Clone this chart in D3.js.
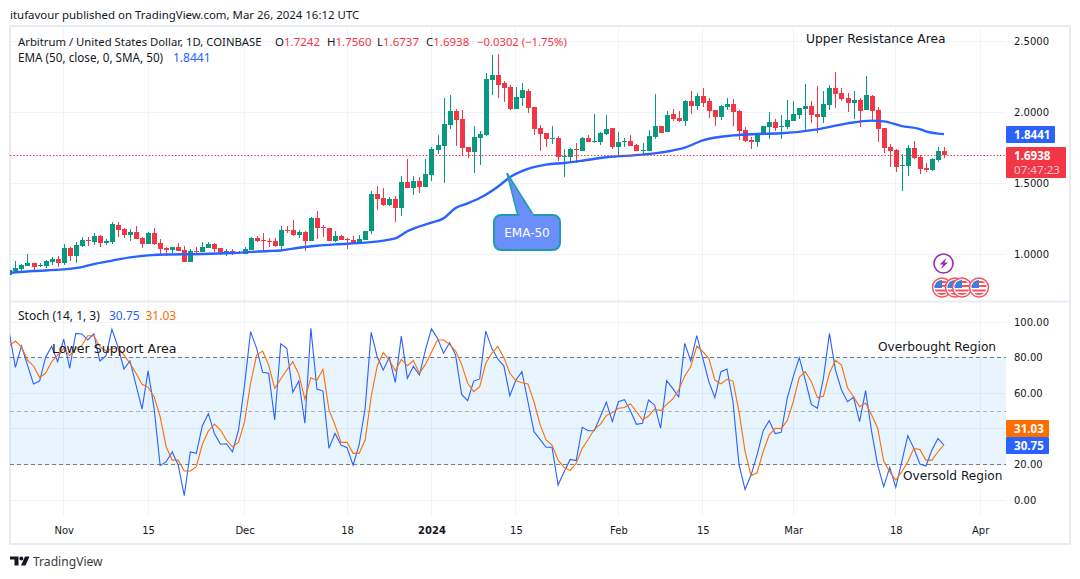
<!DOCTYPE html>
<html>
<head>
<meta charset="utf-8">
<title>ARB/USD</title>
<script src="https://cdn.jsdelivr.net/npm/d3@7"></script>
<style>
    html, body { margin: 0; padding: 0; background: #fff; }
    svg { display: block; }
    text { font-family: "DejaVu Sans", sans-serif; fill: #131722; }
    text.ui { font-family: "Noto Sans", sans-serif; }
</style>
</head>
<body>
<svg id="chart" width="1080" height="579"></svg>
<script>
"use strict";

// daily candles, Oct 23 2023 .. Mar 26 2024
var firstDay = new Date(Date.UTC(2023, 9, 23));

var opens = [
    .852,.878,.894,.915,.936,.915,.915,.943,.964,.936,
    1.042,.985,1.056,1.098,1.084,1.126,1.077,1.084,1.204,1.176,
    1.133,1.155,1.112,1.070,1.147,1.077,1.042,1.028,1.049,1.028,
    .943,1.021,1.014,1.042,1.070,1.042,1.007,1.021,1.014,1.000,
    1.028,1.112,1.098,1.091,1.091,1.056,1.169,1.169,1.133,1.155,
    1.091,1.253,1.192,1.183,1.091,1.127,1.106,1.099,1.070,1.099,
    1.162,1.423,1.394,1.345,1.387,1.324,1.507,1.465,1.514,1.472,
    1.556,1.732,1.761,1.908,2.007,1.951,1.753,1.718,1.817,1.838,
    2.225,2.261,2.204,2.176,2.021,2.099,2.148,2.035,1.887,1.852,
    1.812,1.817,1.685,1.683,1.739,1.725,1.817,1.791,1.789,1.845,
    1.887,1.753,1.791,1.796,1.768,1.728,1.725,1.824,1.901,1.859,
    1.986,1.958,1.936,2.077,2.042,2.112,2.077,2.014,1.965,2.035,
    2.056,2.007,1.873,1.803,1.789,1.838,1.894,1.929,1.897,1.894,
    1.936,1.979,2.021,2.042,1.986,1.965,2.049,2.169,2.134,2.098,
    2.063,2.084,2.014,2.112,2.014,1.887,1.753,1.732,1.622,1.620,
    1.746,1.683,1.605,1.591,1.662,1.7242
];
var highs = [
    .900,.950,.929,1.000,.936,.936,.957,.976,.985,1.070,
    1.049,1.084,1.119,1.119,1.147,1.133,1.105,1.225,1.225,1.183,
    1.176,1.197,1.119,1.155,1.183,1.105,1.049,1.049,1.077,1.056,
    1.035,1.049,1.084,1.084,1.077,1.042,1.035,1.035,1.021,1.049,
    1.119,1.126,1.147,1.112,1.112,1.197,1.197,1.239,1.169,1.162,
    1.260,1.302,1.204,1.183,1.162,1.134,1.113,1.127,1.134,1.162,
    1.444,1.479,1.465,1.401,1.408,1.549,1.669,1.549,1.542,1.669,
    1.756,1.838,2.099,2.120,2.021,2.014,1.753,1.901,1.866,2.275,
    2.401,2.408,2.218,2.190,2.176,2.204,2.162,2.035,1.908,1.852,
    1.901,1.831,1.739,1.746,1.782,1.824,1.838,1.986,1.859,1.979,
    1.887,1.859,1.817,1.838,1.775,1.782,1.873,2.127,1.901,2.007,
    2.021,2.007,2.084,2.148,2.134,2.169,2.098,2.014,2.049,2.098,
    2.091,2.014,1.894,1.824,1.852,1.901,2.000,1.950,1.979,2.084,
    2.077,2.028,2.197,2.077,2.183,2.148,2.190,2.281,2.169,2.134,
    2.148,2.098,2.253,2.120,2.035,1.887,1.774,1.739,1.704,1.767,
    1.796,1.697,1.641,1.676,1.753,1.7560
];
var lows = [
    .845,.868,.878,.915,.882,.908,.901,.922,.908,.922,
    .950,.934,1.049,1.056,1.063,1.049,1.063,1.070,1.119,1.112,
    1.091,1.105,1.042,1.070,1.063,1.000,.985,1.007,1.021,.943,
    .943,1.007,1.014,1.042,1.014,.993,.985,.993,1.000,1.000,
    1.028,1.084,1.021,1.049,1.049,1.035,1.147,1.126,1.112,1.021,
    1.091,1.105,1.119,1.091,1.084,1.099,1.035,1.070,1.070,1.099,
    1.141,1.310,1.338,1.338,1.225,1.268,1.465,1.415,1.430,1.472,
    1.514,1.704,1.500,1.880,1.761,1.690,1.676,1.570,1.627,1.831,
    2.120,2.099,2.070,2.014,2.021,2.042,1.993,1.838,1.725,1.753,
    1.775,1.655,1.542,1.641,1.641,1.725,1.789,1.782,1.768,1.838,
    1.739,1.690,1.753,1.761,1.725,1.697,1.725,1.810,1.852,1.859,
    1.937,1.930,1.901,1.986,2.014,2.035,1.958,1.901,1.943,2.014,
    1.901,1.803,1.789,1.739,1.753,1.838,1.810,1.866,1.810,1.880,
    1.936,1.950,1.873,1.922,1.852,1.922,2.014,2.028,2.077,2.000,
    1.950,1.894,2.014,1.929,1.789,1.711,1.612,1.577,1.443,1.549,
    1.669,1.563,1.577,1.584,1.648,1.6737
];
var closes = [
    .887,.901,.922,.936,.908,.922,.950,.964,.936,1.042,
    .985,1.063,1.098,1.093,1.126,1.077,1.091,1.211,1.169,1.133,
    1.155,1.105,1.070,1.147,1.070,1.035,1.028,1.049,1.021,.943,
    1.021,1.014,1.049,1.070,1.035,1.014,1.021,1.000,1.007,1.035,
    1.112,1.091,1.093,1.086,1.056,1.169,1.162,1.133,1.155,1.091,
    1.253,1.183,1.185,1.091,1.126,1.099,1.101,1.070,1.106,1.162,
    1.423,1.387,1.345,1.387,1.324,1.507,1.465,1.514,1.472,1.563,
    1.739,1.768,1.915,2.007,1.944,1.746,1.718,1.824,1.845,2.232,
    2.261,2.190,2.169,2.021,2.106,2.155,2.028,1.880,1.845,1.810,
    1.817,1.683,1.690,1.739,1.735,1.817,1.789,1.796,1.852,1.880,
    1.753,1.789,1.796,1.761,1.725,1.732,1.831,1.901,1.852,1.979,
    1.951,1.937,2.077,2.042,2.112,2.063,2.007,1.965,2.042,2.056,
    2.000,1.866,1.796,1.789,1.845,1.901,1.929,1.887,1.901,1.943,
    1.986,2.028,2.042,1.979,1.965,2.056,2.169,2.127,2.091,2.063,
    2.084,2.007,2.120,2.007,1.880,1.746,1.725,1.612,1.627,1.746,
    1.676,1.598,1.591,1.669,1.725,1.6938
];

// EMA 50, sampled at these candle numbers
var emaAt = [0,4,9,12,14,17,20,23,26,32,37,43,45,48,51,54,59,64,66,70,72,74,76,78,81,83,86,89,92,95,99,105,109,112,115,120,124,128,134,139,143,145,148,151,152,155];
var emaValues = [.868,.880,.892,.908,.929,.953,.976,.990,.997,1.000,1.007,1.021,1.025,1.044,1.058,1.068,1.080,1.110,1.160,1.221,1.251,1.324,1.357,1.394,1.474,1.540,1.599,1.629,1.641,1.657,1.681,1.700,1.721,1.749,1.800,1.835,1.845,1.850,1.878,1.920,1.939,1.934,1.901,1.880,1.864,1.8441];

var stochK = [
    93.6,74.5,86.5,75.8,65.2,66.8,80.1,86.3,77.7,90.4,
    74.0,93.6,93.3,89.9,93.3,78.1,80.9,95.9,86.1,73.6,
    78.1,64.6,51.1,72.5,51.5,19.3,21.5,27.0,19.6,2.4,
    27.0,26.2,41.7,48.5,37.4,31.3,31.6,27.1,39.3,64.6,
    94.6,85.2,71.7,71.2,45.0,87.8,85.2,60.5,66.8,43.1,
    96.4,62.3,61.2,29.0,37.4,30.9,29.4,19.6,30.9,51.5,
    94.2,80.5,73.0,80.0,66.1,92.1,68.3,75.1,70.2,84.3,
    96.1,90.8,82.4,88.4,81.4,59.3,55.8,66.8,68.0,94.9,
    85.2,79.2,75.4,58.6,67.4,72.1,55.2,38.4,34.1,29.6,
    29.6,8.4,15.9,22.8,22.1,40.8,38.9,38.9,46.8,55.0,
    44.0,55.2,56.4,50.0,42.5,43.1,56.2,53.4,40.3,67.0,
    62.7,58.0,88.0,78.1,92.3,79.6,66.5,57.5,72.1,73.6,
    55.2,20.0,5.9,14.0,25.3,38.8,44.6,37.3,38.0,57.1,
    69.3,80.0,67.4,53.7,51.5,68.3,93.6,73.0,61.8,55.2,
    57.7,44.0,61.4,38.4,19.6,7.5,18.3,7.1,21.5,36.1,
    29.0,20.2,19.1,28.1,34.6,30.75
];
var stochD = [
    86.7,89.3,86.1,78.6,75.3,68.9,71.2,77.7,81.4,85.2,
    81.1,85.2,86.7,92.3,92.3,86.1,83.7,84.8,85.6,81.4,
    76.8,71.2,65.0,63.3,58.0,46.8,29.9,22.4,22.4,16.3,
    16.3,18.7,31.3,38.8,42.7,39.3,33.7,29.9,32.4,44.0,
    65.6,81.4,83.7,75.8,62.7,68.0,73.0,77.7,70.6,56.7,
    68.7,67.2,73.4,50.6,42.1,32.4,32.4,26.2,26.2,33.7,
    58.0,75.3,82.8,78.6,72.6,79.0,75.4,78.3,71.2,76.2,
    83.0,89.9,89.9,87.4,83.7,76.2,65.6,60.9,63.7,76.8,
    82.4,86.3,80.1,71.2,67.0,65.9,65.2,55.2,42.5,33.7,
    30.9,22.4,18.3,16.5,20.6,29.0,34.1,39.7,42.5,47.4,
    49.1,51.5,52.0,54.1,49.6,45.0,47.2,51.1,50.2,53.7,
    56.7,61.8,69.7,74.9,86.5,83.3,79.6,67.4,65.2,67.8,
    66.8,49.6,27.5,13.7,15.3,27.1,36.5,40.3,40.1,44.6,
    55.2,68.9,72.1,66.5,57.5,58.2,71.2,78.5,75.8,63.1,
    58.0,52.4,54.5,47.7,40.3,21.9,15.9,11.2,15.9,21.5,
    29.0,28.4,22.4,22.4,27.1,31.03
];

var priceTicks = [1, 1.5, 2, 2.5];
var stochTicks = [0, 20, 60, 80, 100];
var stochGrid = [0, 20, 40, 60, 80, 100];
var timeTicks = [new Date(Date.UTC(2023, 10, 1)), new Date(Date.UTC(2023, 10, 15)), new Date(Date.UTC(2023, 11, 1)), new Date(Date.UTC(2023, 11, 18)),
    new Date(Date.UTC(2024, 0, 1)), new Date(Date.UTC(2024, 0, 15)), new Date(Date.UTC(2024, 1, 1)), new Date(Date.UTC(2024, 1, 15)),
    new Date(Date.UTC(2024, 2, 1)), new Date(Date.UTC(2024, 2, 18)), new Date(Date.UTC(2024, 3, 1))];
var timeLabels = ["Nov", "15", "Dec", "18", "2024", "15", "Feb", "15", "Mar", "18", "Apr"];

var GREEN = "#089981", RED = "#f23645", BLUE = "#2962ff", ORANGE = "#ff6d00", GRID = "#f0f3fa", BORDER = "#e9ebf2";
var paneLeft = 10, paneRight = 1006;

function dayOf(i) {
    return d3.utcDay.offset(firstDay, i);
}

var x = d3.scaleUtc().domain([firstDay, dayOf(155)]).range([9.4, 944]);
var yPrice = d3.scaleLinear().domain([1, 2.5]).range([254, 41]);
var yStoch = d3.scaleLinear().domain([0, 100]).range([500, 322]);

var svg = d3.select("#chart");
var defs = svg.append("defs");

defs.append("clipPath").attr("id", "priceClip").append("rect")
    .attr("x", paneLeft).attr("y", 27).attr("width", paneRight - paneLeft).attr("height", 274);
defs.append("clipPath").attr("id", "stochClip").append("rect")
    .attr("x", paneLeft).attr("y", 303).attr("width", paneRight - paneLeft).attr("height", 213);

function label(px, py, str, color, size, weight, anchor) {
    return svg.append("text")
        .attr("class", "ui")
        .attr("x", px).attr("y", py)
        .attr("text-anchor", anchor || "start")
        .attr("font-size", size || 12)
        .attr("font-weight", weight || "normal")
        .style("fill", color || "#131722")
        .text(str);
}

function note(px, py, str, size) {
    return label(px, py, str, "#131722", size).attr("class", null);
}

// grid first
var grid = svg.append("g").attr("shape-rendering", "crispEdges");
grid.selectAll("line.v").data(timeTicks).enter().append("line")
    .attr("x1", x).attr("x2", x).attr("y1", 27).attr("y2", 516)
    .attr("stroke", GRID);
grid.selectAll("line.p").data(priceTicks).enter().append("line")
    .attr("x1", paneLeft).attr("x2", paneRight)
    .attr("y1", yPrice).attr("y2", yPrice)
    .attr("stroke", GRID);
grid.selectAll("line.s").data(stochGrid).enter().append("line")
    .attr("x1", paneLeft).attr("x2", paneRight)
    .attr("y1", yStoch).attr("y2", yStoch)
    .attr("stroke", GRID);

// frame
svg.append("rect").attr("x", 10).attr("y", 26).attr("width", 1060).attr("height", 518)
    .attr("fill", "none").attr("stroke", BORDER).attr("stroke-width", 2);
svg.append("line").attr("x1", 10).attr("x2", 1070).attr("y1", 301.5).attr("y2", 301.5)
    .attr("stroke", BORDER).attr("stroke-width", 2);

// price pane
var pricePane = svg.append("g").attr("clip-path", "url(#priceClip)");

var candles = pricePane.selectAll("g.candle").data(d3.range(opens.length)).enter().append("g")
    .attr("shape-rendering", "crispEdges")
    .attr("fill", function (i) { return closes[i] >= opens[i] ? GREEN : RED; });
candles.append("rect")
    .attr("x", function (i) { return Math.round(x(dayOf(i))) - 0.5; })
    .attr("width", 1)
    .attr("y", function (i) { return yPrice(highs[i]); })
    .attr("height", function (i) { return yPrice(lows[i]) - yPrice(highs[i]); });
candles.append("rect")
    .attr("x", function (i) { return Math.round(x(dayOf(i))) - 2.5; })
    .attr("width", 5)
    .attr("y", function (i) { return yPrice(Math.max(opens[i], closes[i])); })
    .attr("height", function (i) { return Math.max(1, Math.abs(yPrice(opens[i]) - yPrice(closes[i]))); });

pricePane.append("path")
    .datum(emaAt)
    .attr("fill", "none").attr("stroke", BLUE).attr("stroke-width", 2.4)
    .attr("d", d3.line()
        .x(function (d) { return x(dayOf(d)); })
        .y(function (d, i) { return yPrice(emaValues[i]); })
        .curve(d3.curveMonotoneX));

// last price line
pricePane.append("line")
    .attr("x1", paneLeft).attr("x2", paneRight)
    .attr("y1", yPrice(closes[155])).attr("y2", yPrice(closes[155]))
    .attr("stroke", RED).attr("stroke-width", 1.2).attr("stroke-dasharray", "1.5 1.8");

// stochastic pane
var stochPane = svg.append("g").attr("clip-path", "url(#stochClip)");

stochPane.append("rect")
    .attr("x", paneLeft).attr("width", paneRight - paneLeft)
    .attr("y", yStoch(80)).attr("height", yStoch(20) - yStoch(80))
    .attr("fill", "#2196f3").attr("fill-opacity", 0.1);

[[80, 1], [50, 0.55], [20, 1]].forEach(function (level) {
    stochPane.append("line")
        .attr("x1", paneLeft).attr("x2", paneRight)
        .attr("y1", yStoch(level[0])).attr("y2", yStoch(level[0]))
        .attr("shape-rendering", "crispEdges")
        .attr("stroke", "#787b86").attr("stroke-opacity", level[1])
        .attr("stroke-dasharray", "4 3");
});

function stochLine(values, color) {
    stochPane.append("path")
        .datum(values)
        .attr("fill", "none").attr("stroke", color).attr("stroke-width", 1.1)
        .attr("d", d3.line()
            .x(function (d, i) { return x(dayOf(i)); })
            .y(function (d) { return yStoch(d); }));
}
stochLine(stochK, BLUE);
stochLine(stochD, ORANGE);

// axes
function cleanAxis(g) {
    g.select(".domain").remove();
    g.selectAll(".tick line").remove();
    g.selectAll("text").attr("font-family", null).style("fill", "#131722");
}
svg.append("g").attr("transform", "translate(1014,0)").attr("font-size", 12)
    .call(d3.axisRight(yPrice).tickValues(priceTicks).tickSize(0).tickPadding(0).tickFormat(d3.format(".4f")))
    .call(cleanAxis);
svg.append("g").attr("transform", "translate(1014,0)").attr("font-size", 12)
    .call(d3.axisRight(yStoch).tickValues(stochTicks).tickSize(0).tickPadding(0).tickFormat(d3.format(".2f")))
    .call(cleanAxis);
svg.append("g").attr("transform", "translate(0,527)").attr("font-size", 12)
    .call(d3.axisBottom(x).tickValues(timeTicks).tickSize(0).tickPadding(0)
        .tickFormat(function (d, i) { return timeLabels[i]; }))
    .call(cleanAxis)
    .selectAll("text").attr("font-weight", function (d, i) { return timeLabels[i] === "2024" ? "bold" : "normal"; });

// header and legends
label(10, 19, "itufavour published on TradingView.com, Mar 26, 2024 16:12 UTC", "#131722", 11.45);
label(18, 46, "Arbitrum / United States Dollar, 1D, COINBASE", "#131722", 11.3);
[[275, "O", "1.7242"], [327, "H", "1.7560"], [377, "L", "1.6737"], [426, "C", "1.6938"]].forEach(function (o) {
    var t = label(o[0], 46, o[1], "#131722", 11.5);
    t.append("tspan").style("fill", RED).text(o[2]);
});
label(477, 46, "\u22120.0302 (\u22121.75%)", RED, 11.3);
label(18, 62, "EMA (50, close, 0, SMA, 50)", "#131722", 11.7);
label(173, 62, "1.8441", BLUE, 12);
label(18, 320, "Stoch (14, 1, 3)", "#131722", 12);
label(109, 320, "30.75", BLUE, 12);
label(145.5, 320, "31.03", ORANGE, 12);

// drawn notes
note(806, 43, "Upper Resistance Area", 12.3);
note(52, 353, "Lower Support Area", 12.6);
note(878, 351, "Overbought Region", 12.2);
note(903, 480, "Oversold Region", 12.15);

// callout
svg.append("path")
    .attr("d", "M507 " + yPrice(1.57) + "L518 216L534 216Z")
    .attr("fill", "#6a8ffb").attr("stroke", "#1f9cb0").attr("stroke-width", 1.6);
svg.append("rect").attr("x", 494).attr("y", 215).attr("width", 66).attr("height", 35).attr("rx", 7)
    .attr("fill", "#6a8ffb").attr("stroke", "#1f9cb0").attr("stroke-width", 2);
svg.append("rect").attr("x", 519.5).attr("y", 213).attr("width", 13.5).attr("height", 4).attr("fill", "#6a8ffb");
note(527, 237, "EMA-50", 12).attr("text-anchor", "middle").style("fill", "#fff");

// price tags
function tag(px, py, w, h, color) {
    svg.append("rect").attr("x", px).attr("y", py).attr("width", w).attr("height", h).attr("rx", 1).attr("fill", color);
}
tag(1006, 126, 49, 17, BLUE);
label(1014, 139, "1.8441", "#fff", 11.6, "bold");
tag(1006, 147, 60, 31, RED);
label(1014, 160, "1.6938", "#fff", 11.6, "bold");
label(1014, 174, "07:47:23", "#fbc5ca", 11.6);
tag(1006, 420, 43, 17, ORANGE);
label(1014, 433, "31.03", "#fff", 11.6, "bold");
tag(1006, 437, 43, 17, BLUE);
label(1014, 450, "30.75", "#fff", 11.6, "bold");

// event markers
svg.append("circle").attr("cx", 943.5).attr("cy", 263.5).attr("r", 9.5)
    .attr("fill", "#fff").attr("stroke", "#9c27b0").attr("stroke-width", 1.6);
svg.append("path").attr("d", "M946.5 258L939.5 264.5L943 264.5L941 269L948 262.5L944.5 262.5Z").attr("fill", "#9c27b0");

[942, 955, 962, 979].forEach(function (cx, k) {
    var id = "flag" + k;
    defs.append("clipPath").attr("id", id).append("circle").attr("cx", cx).attr("cy", 287.5).attr("r", 7.5);
    var g = svg.append("g");
    g.append("circle").attr("cx", cx).attr("cy", 287.5).attr("r", 9.5)
        .attr("fill", "#fff").attr("stroke", "#f7525f").attr("stroke-width", 1.5);
    var f = g.append("g").attr("clip-path", "url(#" + id + ")");
    f.append("rect").attr("x", cx - 8).attr("y", 280).attr("width", 16).attr("height", 15).attr("fill", "#fff");
    [281, 285, 289.5, 293].forEach(function (sy) {
        f.append("rect").attr("x", cx - 8).attr("y", sy).attr("width", 16).attr("height", 2).attr("fill", "#f7525f");
    });
    f.append("rect").attr("x", cx - 8).attr("y", 280).attr("width", 8).attr("height", 8).attr("fill", "#3d7fe0");
});

// footer logo
svg.append("path").attr("d", "M10 556.5H18.5V565.5H14.5V559.5H10ZM25 556.5H29.5L25.5 565.5H21Z").attr("fill", "#131722");
svg.append("circle").attr("cx", 21.3).attr("cy", 558.5).attr("r", 2).attr("fill", "#131722");
label(33, 566, "TradingView", "#3b3b3b", 12.1);
</script>
</body>
</html>
